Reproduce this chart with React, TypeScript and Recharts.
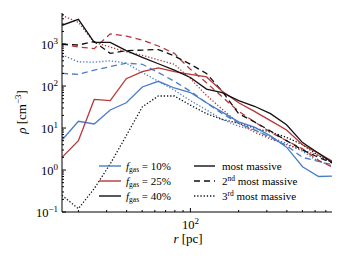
import React from 'react';
import { LineChart, Line, XAxis, YAxis, Legend } from 'recharts';

// radius bins [pc]
const radii = [15.8, 20.0, 25.1, 31.6, 39.8, 50.1, 63.1, 79.4, 100, 126, 158, 200, 251, 316, 398, 501, 631, 794];

// density profiles [cm^-3]
const blueSolid = [5.2, 14.5, 12.5, 27, 40, 95, 130, 90, 70, 40, 24, 14, 10.5, 6.5, 3.5, 1.2, 0.7, 0.72];
const blueDashed = [200, 190, 240, 290, 350, 330, 210, 130, 75, 40, 22, 13, 9, 6, 3.8, 2.0, 1.6, 1.3];
const blueDotted = [550, 380, 370, 400, 350, 210, 130, 80, 45, 27, 16, 11, 9, 6, 4.3, 2.8, 1.6, 1.2];
const redSolid = [2.0, 5, 48, 45, 150, 220, 270, 220, 190, 165, 75, 40, 25, 15, 9, 4, 2.5, 1.5];
const redDashed = [1000, 850, 780, 1750, 1550, 1250, 900, 600, 250, 120, 55, 25, 14, 8, 5, 3.2, 1.7, 1.1];
const redDotted = [4800, 3300, 1100, 850, 650, 540, 420, 330, 150, 60, 28, 13, 8, 5.5, 4, 3, 2.2, 1.5];
const blackSolid = [2800, 3900, 1100, 1100, 700, 480, 340, 240, 160, 85, 70, 45, 33, 22, 12, 4.5, 2.5, 1.4];
const blackDashed = [1000, 950, 1150, 600, 700, 720, 740, 520, 330, 200, 75, 22, 14, 8.5, 5, 3, 2, 1.4];
const blackDotted = [0.25, 0.12, 0.36, 1.4, 6.6, 32, 58, 58, 35, 22, 16, 13, 10, 8, 6, 4, 2.2, 1.4];

const xTicks = [20, 30, 40, 50, 60, 70, 80, 90, 100, 200, 300, 400, 500, 600, 700];
const xMajor = [100];
const yTicks = [
  0.1, 0.2, 0.3, 0.4, 0.5, 0.6, 0.7, 0.8, 0.9,
  1, 2, 3, 4, 5, 6, 7, 8, 9,
  10, 20, 30, 40, 50, 60, 70, 80, 90,
  100, 200, 300, 400, 500, 600, 700, 800, 900,
  1000, 2000, 3000, 4000, 5000,
];
const yMajor = [0.1, 1, 10, 100, 1000];
const yMajorExp: Record<string, string> = { '0.1': '−1', '1': '0', '10': '1', '100': '2', '1000': '3' };
const xMajorExp: Record<string, string> = { '100': '2' };

const gasLabels = ['10%', '25%', '40%'];
const massLabels = ['', 'nd', 'rd'];

const BLUE = '#4a7cc6';
const RED = '#b5373a';
const BLACK = '#111111';
const FONT = 'Liberation Serif, Times New Roman, DejaVu Serif, serif';
const TXT = { fontFamily: FONT };

const SOLID = undefined;
const DASHED = '6 4';
const DOTTED = '1.3 1.9';

const data = radii.map((r, i) => ({
  r,
  bs: blueSolid[i],
  bd: blueDashed[i],
  bt: blueDotted[i],
  rs: redSolid[i],
  rd: redDashed[i],
  rt: redDotted[i],
  ks: blackSolid[i],
  kd: blackDashed[i],
  kt: blackDotted[i],
}));

const series = [
  { key: 'bt', color: BLUE, dash: DOTTED },
  { key: 'rt', color: RED, dash: DOTTED },
  { key: 'kt', color: BLACK, dash: DOTTED },
  { key: 'bd', color: BLUE, dash: DASHED },
  { key: 'rd', color: RED, dash: DASHED },
  { key: 'kd', color: BLACK, dash: DASHED },
  { key: 'bs', color: BLUE, dash: SOLID },
  { key: 'rs', color: RED, dash: SOLID },
  { key: 'ks', color: BLACK, dash: SOLID },
];

const MAJ = 4;
const MIN = 2;

const BottomTick = (props: any) => {
  const { x, y, payload } = props;
  const v = payload.value;
  const major = xMajor.includes(v);
  return (
    <g>
      <line x1={x} x2={x} y1={y} y2={y - (major ? MAJ : MIN)} stroke="#000" strokeWidth={1} />
      {major && (
        <text x={x} y={y + 17} textAnchor="middle" style={TXT} fontSize={12.5} fill="#000">
          10<tspan dy={-5} fontSize={9}>{xMajorExp[String(v)]}</tspan>
        </text>
      )}
    </g>
  );
};

const TopTick = (props: any) => {
  const { x, y, payload } = props;
  const major = xMajor.includes(payload.value);
  return <line x1={x} x2={x} y1={y} y2={y + (major ? MAJ : MIN)} stroke="#000" strokeWidth={1} />;
};

const LeftTick = (props: any) => {
  const { x, y, payload } = props;
  const v = payload.value;
  const major = yMajor.includes(v);
  return (
    <g>
      <line x1={x} x2={x + (major ? MAJ : MIN)} y1={y} y2={y} stroke="#000" strokeWidth={1} />
      {major && (
        <text x={x - 4} y={y + 4.5} textAnchor="end" style={TXT} fontSize={12.5} fill="#000">
          10<tspan dy={-5} fontSize={9}>{yMajorExp[String(v)]}</tspan>
        </text>
      )}
    </g>
  );
};

const RightTick = (props: any) => {
  const { x, y, payload } = props;
  const major = yMajor.includes(payload.value);
  return <line x1={x} x2={x - (major ? MAJ : MIN)} y1={y} y2={y} stroke="#000" strokeWidth={1} />;
};

const XTitle = () => (
  <text x={188} y={243} textAnchor="middle" style={TXT} fontSize={13} fill="#000">
    <tspan fontStyle="italic">r</tspan> [pc]
  </text>
);

const YTitle = () => (
  <text
    x={0}
    y={0}
    transform="translate(26 112) rotate(-90)"
    textAnchor="middle"
    style={TXT}
    fontSize={13}
    fill="#000"
  >
    <tspan fontStyle="italic">ρ</tspan> [cm<tspan dy={-5} fontSize={9}>−3</tspan><tspan dy={5}>]</tspan>
  </text>
);

const LegendBox = () => {
  const colors = [BLUE, RED, BLACK];
  const dashes = [SOLID, DASHED, DOTTED];
  const rowY = [166, 181, 196];
  return (
    <svg width={346} height={260} style={{ position: 'absolute', left: 0, top: 0, pointerEvents: 'none' }}>
      {gasLabels.map((g, i) => (
        <g key={'g' + i}>
          <line x1={99} x2={121} y1={rowY[i]} y2={rowY[i]} stroke={colors[i]} strokeWidth={1.4} />
          <text x={126} y={rowY[i] + 3.5} style={TXT} fontSize={11} fill="#000">
            <tspan fontStyle="italic">f</tspan>
            <tspan fontSize={7.5} dy={2}>gas</tspan>
            <tspan dy={-2}> = {g}</tspan>
          </text>
        </g>
      ))}
      {massLabels.map((m, i) => (
        <g key={'m' + i}>
          <line x1={194} x2={215} y1={rowY[i]} y2={rowY[i]} stroke={BLACK} strokeWidth={1.4} strokeDasharray={dashes[i]} />
          <text x={222} y={rowY[i] + 3.5} style={TXT} fontSize={11} fill="#000">
            {i === 0 ? 'most massive' : (
              <>
                {i + 1}<tspan dy={-4} fontSize={7.5}>{m}</tspan><tspan dy={4}> most massive</tspan>
              </>
            )}
          </text>
        </g>
      ))}
    </svg>
  );
};

export default function App() {
  return (
    <div style={{ position: 'absolute', left: 0, top: 0, width: 346, height: 260, background: '#fff' }}>
      <LineChart width={346} height={260} data={data} margin={{ top: 13, right: 14, bottom: 0, left: 0 }}>
        <XAxis
          xAxisId="b"
          dataKey="r"
          type="number"
          scale="log"
          domain={[15.8, 765]}
          allowDataOverflow
          ticks={xTicks}
          interval={0}
          height={48}
          tickSize={0}
          tickMargin={0}
          tickLine={false}
          tick={<BottomTick />}
          axisLine={{ stroke: '#000', strokeWidth: 1 }}
          label={<XTitle />}
        />
        <XAxis
          xAxisId="t"
          orientation="top"
          type="number"
          scale="log"
          domain={[15.8, 765]}
          allowDataOverflow
          ticks={xTicks}
          interval={0}
          height={0}
          tickSize={0}
          tickMargin={0}
          tickLine={false}
          tick={<TopTick />}
          axisLine={{ stroke: '#000', strokeWidth: 1 }}
        />
        <YAxis
          yAxisId="l"
          type="number"
          scale="log"
          domain={[0.1, 5500]}
          allowDataOverflow
          ticks={yTicks}
          interval={0}
          width={62}
          tickSize={0}
          tickMargin={0}
          tickLine={false}
          tick={<LeftTick />}
          axisLine={{ stroke: '#000', strokeWidth: 1 }}
          label={<YTitle />}
        />
        <YAxis
          yAxisId="rt"
          orientation="right"
          type="number"
          scale="log"
          domain={[0.1, 5500]}
          allowDataOverflow
          ticks={yTicks}
          interval={0}
          width={0}
          tickSize={0}
          tickMargin={0}
          tickLine={false}
          tick={<RightTick />}
          axisLine={{ stroke: '#000', strokeWidth: 1 }}
        />
        {series.map((s) => (
          <Line
            key={s.key}
            xAxisId="b"
            yAxisId="l"
            dataKey={s.key}
            type="linear"
            stroke={s.color}
            strokeWidth={1.3}
            strokeDasharray={s.dash}
            dot={false}
            activeDot={false}
            isAnimationActive={false}
          />
        ))}
        <Legend
          layout="horizontal"
          verticalAlign="middle"
          align="center"
          content={<LegendBox />}
          wrapperStyle={{ position: 'absolute', left: 0, top: 0, width: 346, height: 260, pointerEvents: 'none' }}
        />
      </LineChart>
    </div>
  );
}
